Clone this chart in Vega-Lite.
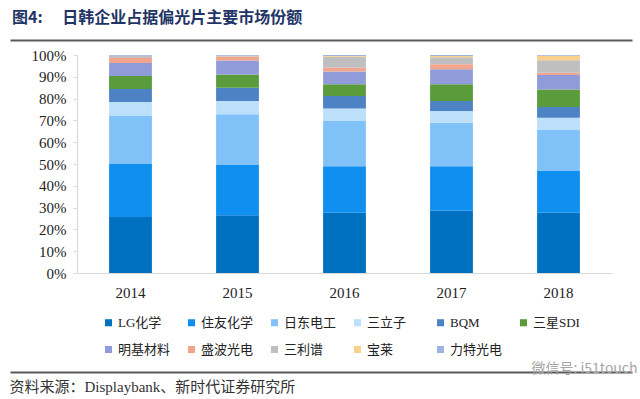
{
  "$schema": "https://vega.github.io/schema/vega-lite/v6.json",
  "width": 622,
  "height": 332,
  "autosize": "none",
  "padding": {"left": 10, "top": 40, "right": 8, "bottom": 27},
  "background": "white",
  "config": {"view": {"stroke": null}},
  "title": {
    "text": "图4:\u3000 日韩企业占据偏光片主要市场份额",
    "anchor": "start",
    "frame": "group",
    "offset": 11,
    "dx": 2,
    "font": "Noto Sans CJK SC",
    "fontSize": 16,
    "fontWeight": "bold",
    "color": "#1F3566"
  },
  "layer": [
    {
      "data": {
        "values": [
          {"year": "2014", "company": "LG化学", "i": 1, "share": 25.7},
          {"year": "2014", "company": "住友化学", "i": 2, "share": 24.3},
          {"year": "2014", "company": "日东电工", "i": 3, "share": 22.0},
          {"year": "2014", "company": "三立子", "i": 4, "share": 6.4},
          {"year": "2014", "company": "BQM", "i": 5, "share": 6.0},
          {"year": "2014", "company": "三星SDI", "i": 6, "share": 6.0},
          {"year": "2014", "company": "明基材料", "i": 7, "share": 5.9},
          {"year": "2014", "company": "盛波光电", "i": 8, "share": 2.3},
          {"year": "2014", "company": "三利谱", "i": 9, "share": 1.0},
          {"year": "2014", "company": "宝莱", "i": 10, "share": 0.0},
          {"year": "2014", "company": "力特光电", "i": 11, "share": 0.4},
          {"year": "2015", "company": "LG化学", "i": 1, "share": 26.5},
          {"year": "2015", "company": "住友化学", "i": 2, "share": 23.3},
          {"year": "2015", "company": "日东电工", "i": 3, "share": 23.0},
          {"year": "2015", "company": "三立子", "i": 4, "share": 6.1},
          {"year": "2015", "company": "BQM", "i": 5, "share": 6.1},
          {"year": "2015", "company": "三星SDI", "i": 6, "share": 6.1},
          {"year": "2015", "company": "明基材料", "i": 7, "share": 6.4},
          {"year": "2015", "company": "盛波光电", "i": 8, "share": 1.8},
          {"year": "2015", "company": "三利谱", "i": 9, "share": 0.4},
          {"year": "2015", "company": "宝莱", "i": 10, "share": 0.0},
          {"year": "2015", "company": "力特光电", "i": 11, "share": 0.3},
          {"year": "2016", "company": "LG化学", "i": 1, "share": 27.6},
          {"year": "2016", "company": "住友化学", "i": 2, "share": 21.4},
          {"year": "2016", "company": "日东电工", "i": 3, "share": 20.7},
          {"year": "2016", "company": "三立子", "i": 4, "share": 5.8},
          {"year": "2016", "company": "BQM", "i": 5, "share": 5.7},
          {"year": "2016", "company": "三星SDI", "i": 6, "share": 5.4},
          {"year": "2016", "company": "明基材料", "i": 7, "share": 5.8},
          {"year": "2016", "company": "盛波光电", "i": 8, "share": 1.8},
          {"year": "2016", "company": "三利谱", "i": 9, "share": 5.0},
          {"year": "2016", "company": "宝莱", "i": 10, "share": 0.3},
          {"year": "2016", "company": "力特光电", "i": 11, "share": 0.5},
          {"year": "2017", "company": "LG化学", "i": 1, "share": 28.6},
          {"year": "2017", "company": "住友化学", "i": 2, "share": 20.4},
          {"year": "2017", "company": "日东电工", "i": 3, "share": 19.9},
          {"year": "2017", "company": "三立子", "i": 4, "share": 5.4},
          {"year": "2017", "company": "BQM", "i": 5, "share": 4.6},
          {"year": "2017", "company": "三星SDI", "i": 6, "share": 7.7},
          {"year": "2017", "company": "明基材料", "i": 7, "share": 6.9},
          {"year": "2017", "company": "盛波光电", "i": 8, "share": 2.3},
          {"year": "2017", "company": "三利谱", "i": 9, "share": 3.2},
          {"year": "2017", "company": "宝莱", "i": 10, "share": 0.5},
          {"year": "2017", "company": "力特光电", "i": 11, "share": 0.5},
          {"year": "2018", "company": "LG化学", "i": 1, "share": 27.6},
          {"year": "2018", "company": "住友化学", "i": 2, "share": 19.4},
          {"year": "2018", "company": "日东电工", "i": 3, "share": 18.8},
          {"year": "2018", "company": "三立子", "i": 4, "share": 5.4},
          {"year": "2018", "company": "BQM", "i": 5, "share": 4.9},
          {"year": "2018", "company": "三星SDI", "i": 6, "share": 8.1},
          {"year": "2018", "company": "明基材料", "i": 7, "share": 6.6},
          {"year": "2018", "company": "盛波光电", "i": 8, "share": 1.1},
          {"year": "2018", "company": "三利谱", "i": 9, "share": 5.7},
          {"year": "2018", "company": "宝莱", "i": 10, "share": 2.0},
          {"year": "2018", "company": "力特光电", "i": 11, "share": 0.4}
        ]
      },
      "mark": {"type": "bar"},
      "encoding": {
        "x": {
          "field": "year",
          "type": "nominal",
          "scale": {"range": [67, 602], "paddingInner": 0.6, "paddingOuter": 0.3},
          "axis": {
            "orient": "bottom",
            "offset": -99,
            "labelAngle": 0,
            "ticks": false,
            "labelPadding": 12,
            "labelFont": "Liberation Serif",
            "labelFontSize": 15,
            "labelColor": "#222222",
            "domainColor": "#D9D9D9",
            "domainWidth": 1,
            "title": "资料来源：Displaybank、新时代证券研究所",
            "titleX": -1,
            "titleY": 113,
            "titleAlign": "left",
            "titleBaseline": "middle",
            "titleFont": "'Liberation Serif', 'Noto Sans CJK SC'",
            "titleFontSize": 15,
            "titleFontWeight": "normal",
            "titleColor": "#333333"
          }
        },
        "y": {
          "field": "share",
          "type": "quantitative",
          "stack": "zero",
          "scale": {"domain": [0, 100], "range": [233, 15], "nice": false, "zero": true},
          "axis": {
            "orient": "left",
            "offset": -67,
            "values": [0, 10, 20, 30, 40, 50, 60, 70, 80, 90, 100],
            "labelExpr": "datum.value + '%'",
            "grid": false,
            "tickSize": 4,
            "tickColor": "#D9D9D9",
            "domainColor": "#D9D9D9",
            "labelPadding": 7,
            "labelFont": "Liberation Serif",
            "labelFontSize": 15,
            "labelColor": "#222222",
            "title": null
          }
        },
        "color": {
          "field": "company",
          "type": "nominal",
          "scale": {
            "domain": ["LG化学", "住友化学", "日东电工", "三立子", "BQM", "三星SDI", "明基材料", "盛波光电", "三利谱", "宝莱", "力特光电"],
            "range": ["#0070C0", "#0F90F0", "#80C2F8", "#BCDFFA", "#4D82C4", "#5A9B3C", "#8F9CD9", "#F0A58C", "#BFBFBF", "#FAD08A", "#9DB4DE"]
          },
          "legend": {
            "orient": "none",
            "legendX": 92,
            "legendY": 276,
            "direction": "horizontal",
            "columns": 6,
            "gridAlign": "all",
            "columnPadding": 14,
            "rowPadding": 13,
            "symbolType": "square",
            "symbolSize": 50,
            "symbolStrokeWidth": 0,
            "labelOffset": 3,
            "labelFont": "'Liberation Serif', 'Noto Sans CJK SC'",
            "labelFontSize": 13,
            "labelColor": "#222222",
            "title": null
          }
        },
        "order": {"field": "i", "type": "quantitative", "sort": "ascending"}
      }
    },
    {
      "data": {"values": [{"g": 0}, {"g": 1}]},
      "mark": {"type": "point", "opacity": 0},
      "encoding": {
        "y": {
          "field": "g",
          "type": "quantitative",
          "scale": {"domain": [0, 1], "nice": false},
          "axis": {
            "orient": "right",
            "values": [0, 1],
            "grid": true,
            "gridColor": "#595959",
            "gridWidth": 2,
            "labels": false,
            "ticks": false,
            "domain": false,
            "title": "微信号: i51touch",
            "titleAngle": 0,
            "titleX": 5,
            "titleY": 328,
            "titleAlign": "right",
            "titleBaseline": "middle",
            "titleFont": "Noto Sans CJK SC",
            "titleFontSize": 14,
            "titleFontWeight": "normal",
            "titleColor": "#A6A6A6"
          }
        }
      }
    }
  ],
  "resolve": {"scale": {"y": "independent"}, "axis": {"y": "independent"}}
}
